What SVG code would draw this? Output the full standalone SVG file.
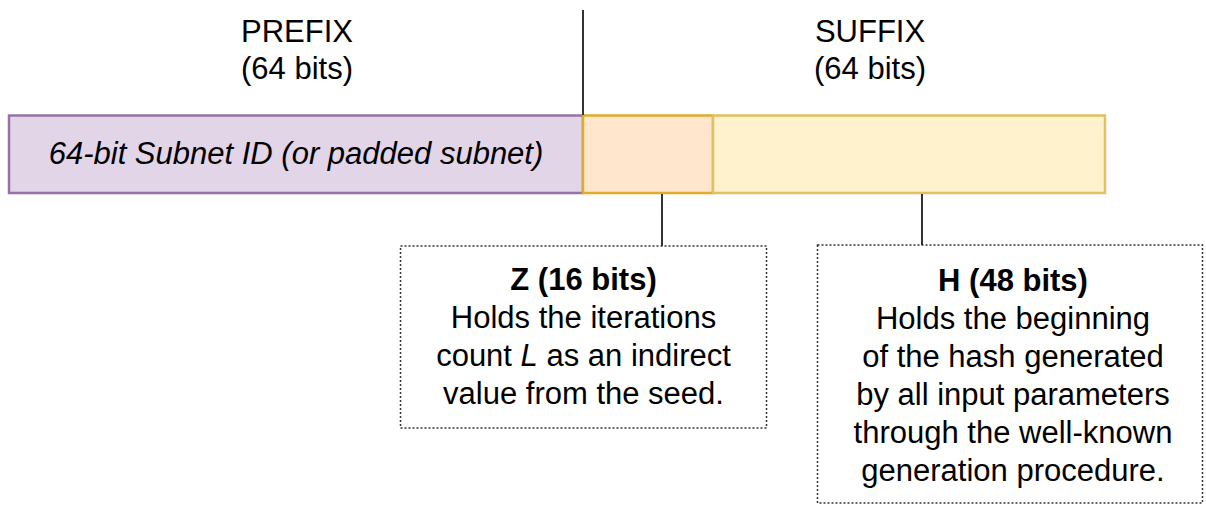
<svg xmlns="http://www.w3.org/2000/svg" width="1206" height="506" viewBox="0 0 1206 506">
  <style>
    text { font-family: "Liberation Sans", Arial, sans-serif; fill: #000; font-size: 31px; text-anchor: middle; }
    .note { fill: #fff; stroke: #333; stroke-width: 1.5; stroke-dasharray: 2 2; }
    .wire { stroke: #333; stroke-width: 2; fill: none; }
  </style>

  <!-- field headers -->
  <g id="prefix-header">
    <text x="297" y="42">PREFIX</text>
    <text x="297" y="79">(64 bits)</text>
  </g>
  <g id="suffix-header">
    <text x="870" y="42">SUFFIX</text>
    <text x="870" y="79">(64 bits)</text>
  </g>

  <!-- address bar -->
  <g id="subnet-id">
    <rect x="9" y="115.5" width="574" height="77.5" fill="#e1d5e7" stroke="#9673a6" stroke-width="2.5"/>
    <text x="296" y="164" font-style="italic">64-bit Subnet ID (or padded subnet)</text>
  </g>
  <g id="z-field">
    <rect x="583" y="115.5" width="130" height="77.5" fill="#ffe6cc" stroke="#dfad2a" stroke-width="2.5"/>
  </g>
  <g id="h-field">
    <rect x="713" y="115.5" width="392" height="77.5" fill="#fff2cc" stroke="#e0c060" stroke-width="2.5"/>
  </g>

  <!-- connectors -->
  <g id="connectors">
    <line class="wire" x1="583" y1="10" x2="583" y2="115"/>
    <line class="wire" x1="662" y1="194" x2="662" y2="246"/>
    <line class="wire" x1="922" y1="194" x2="922" y2="245"/>
  </g>

  <!-- descriptions -->
  <g id="z-note">
    <rect class="note" x="400.5" y="246" width="366" height="182"/>
    <text x="583.5" y="290" font-weight="bold">Z (16 bits)</text>
    <text x="583.5" y="328">Holds the iterations</text>
    <text x="583.5" y="366">count <tspan font-style="italic">L</tspan> as an indirect</text>
    <text x="583.5" y="404">value from the seed.</text>
  </g>
  <g id="h-note">
    <rect class="note" x="817.5" y="245" width="385" height="258"/>
    <text x="1013" y="291" font-weight="bold">H (48 bits)</text>
    <text x="1013" y="329">Holds the beginning</text>
    <text x="1013" y="367">of the hash generated</text>
    <text x="1013" y="405">by all input parameters</text>
    <text x="1013" y="443">through the well-known</text>
    <text x="1013" y="481">generation procedure.</text>
  </g>
</svg>
